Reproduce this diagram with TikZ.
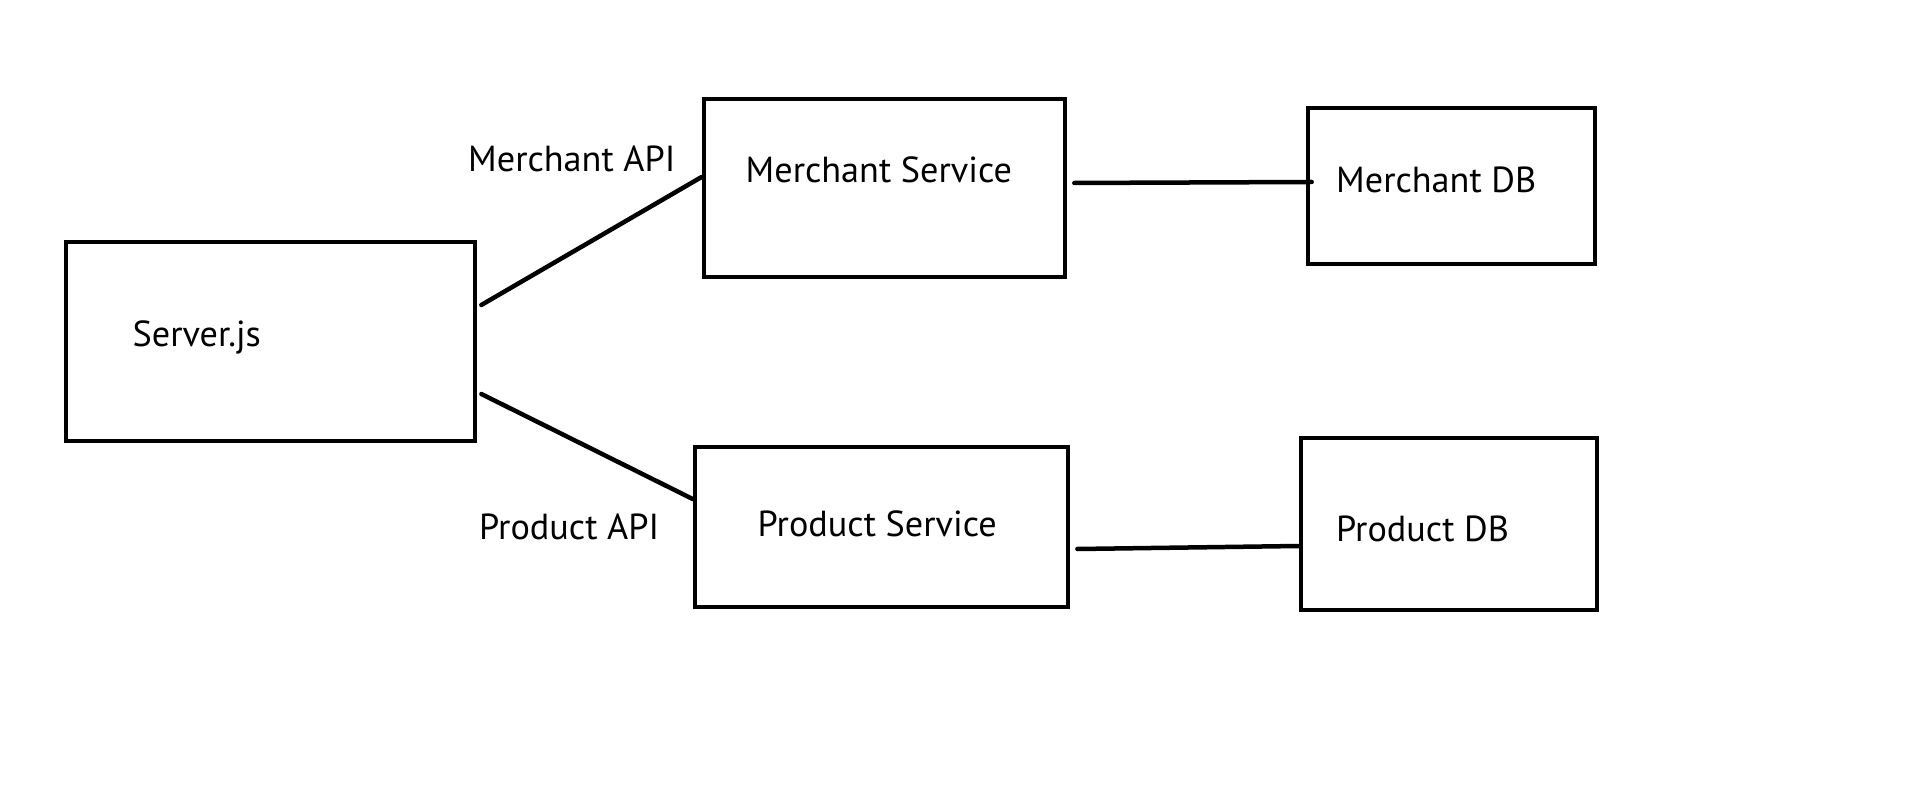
\documentclass[tikz,border=0pt]{standalone}
\usepackage{fontspec}
\setmainfont{PT Sans}
\usepackage{tikz}

\begin{document}
\begin{tikzpicture}[x=0.01cm, y=-0.01cm,
        box/.style={draw, line width=0.045cm, inner sep=0pt},
        lbl/.style={anchor=base west, inner sep=0pt, font=\fontsize{10.3}{13}\selectfont},
        link/.style={line width=0.045cm, line cap=round}]

        \useasboundingbox (0,0) rectangle (1914,804);

        % Server
        \node [box,
            minimum width=4.09cm,
            minimum height=1.99cm] (server) at (270.5,341.5) {};

        % Merchant side
        \node [box,
            minimum width=3.61cm,
            minimum height=1.78cm] (msvc) at (884.5,188) {};
        \node [box,
            minimum width=2.87cm,
            minimum height=1.56cm] (mdb) at (1451.5,186) {};

        % Product side
        \node [box,
            minimum width=3.73cm,
            minimum height=1.60cm] (psvc) at (881.5,527) {};
        \node [box,
            minimum width=2.96cm,
            minimum height=1.72cm] (pdb) at (1449,524) {};

        % Box texts
        \node [lbl] (serverlbl) at (132,347) {Server.js};
        \node [lbl] (msvclbl) at (745,183) {Merchant Service};
        \node [lbl] (mdblbl) at (1335.5,193) {Merchant DB};
        \node [lbl] (psvclbl) at (757,537) {Product Service};
        \node [lbl] (pdblbl) at (1335.5,542) {Product DB};

        % API labels
        \node [lbl] (mapi) at (467.5,172) {Merchant API};
        \node [lbl] (papi) at (478.5,540) {Product API};

        % Links
        \draw [link] ([xshift=0.04cm,yshift=0.365cm]server.east) -- ([yshift=0.11cm]msvc.west);
        \draw [link] ([xshift=0.04cm,yshift=-0.525cm]server.east) -- ([yshift=0.28cm]psvc.west);
        \draw [link] ([xshift=0.07cm,yshift=0.05cm]msvc.east) -- ([xshift=0.06cm,yshift=0.04cm]mdb.west);
        \draw [link] ([xshift=0.07cm,yshift=-0.22cm]psvc.east) -- ([yshift=-0.22cm]pdb.west);

\end{tikzpicture}
\end{document}
